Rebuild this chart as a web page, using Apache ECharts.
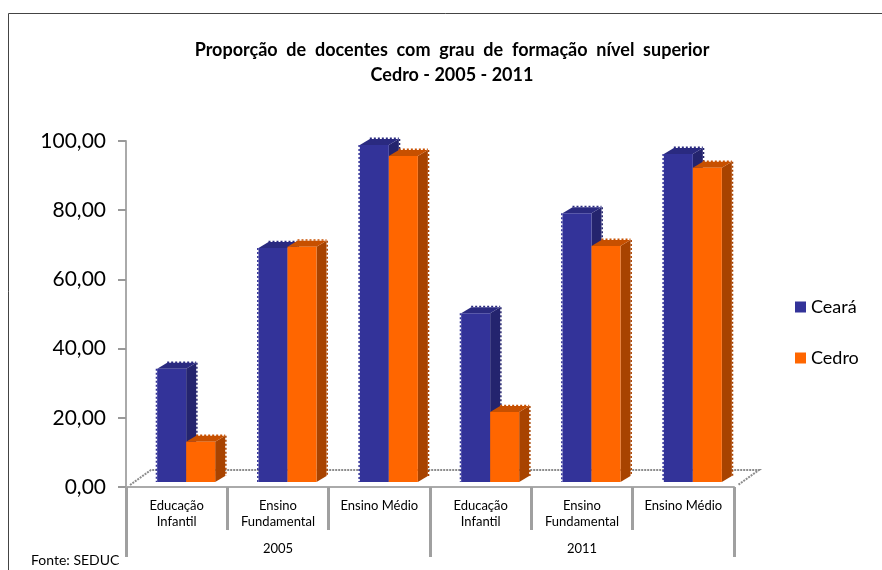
<!DOCTYPE html>
<html><head><meta charset="utf-8">
<style>html,body{margin:0;padding:0;background:#fff}#c{width:882px;height:570px}</style>
<script src="https://cdn.jsdelivr.net/npm/echarts@6/dist/echarts.min.js"></script>
</head><body><div id="c"></div>
<script>
const categories = ['Educação\nInfantil','Ensino\nFundamental','Ensino Médio','Educação\nInfantil','Ensino\nFundamental','Ensino Médio'];
const years = ['2005','2011'];
const ceara = [32.7,67.6,97.4,48.8,77.7,94.8];
const cedro = [11.6,68.0,94.2,20.2,68.2,90.8];
const yTicks = {min:0,max:100,interval:20};

const chart = echarts.init(document.getElementById('c'),null,{renderer:'canvas'});
const BW=29, DX=10, DY=6, SHIFT=9.5, LIFT=5;

function bar(front,side,top,sign){
  return function(params,api){
    const i=api.value(0), v=api.value(1);
    const c=api.coord([i,v]), b=api.coord([i,0]);
    const x0=c[0]+SHIFT+(sign<0?-BW:0), x1=x0+BW, yt=c[1]-LIFT, yb=b[1]-LIFT;
    const poly=(pts,fill)=>({type:'polygon',shape:{points:pts},style:{fill:fill,stroke:null}});
    const teeth=(p,col)=>({type:'polyline',shape:{points:p},style:{fill:null,stroke:col,lineWidth:1.5,lineDash:[2,2]}});
    const kids=[
      poly([[x1,yt],[x1+DX,yt-DY],[x1+DX,yb-DY],[x1,yb]],side),
      poly([[x0,yt],[x0+DX,yt-DY],[x1+DX,yt-DY],[x1,yt]],top),
      {type:'rect',shape:{x:x0,y:yt,width:BW,height:yb-yt},style:{fill:front}},
      teeth([[x1+DX+0.7,yt-DY],[x1+DX+0.7,yb-DY]],side),
      teeth([[x0+DX,yt-DY-0.7],[x1+DX,yt-DY-0.7]],top)
    ];
    if(sign<0) kids.push(teeth([[x0-0.7,yt],[x0-0.7,yb]],front));
    return {type:'group',children:kids};
  };
}
function floor(params,api){
  const a=api.coord([0,0]), z=api.coord([5,0]);
  const half=(z[0]-a[0])/10;
  const L=a[0]-half, R=z[0]+half, y=a[1], d=25, h=17;
  const dot={stroke:'#8c8c8c',lineWidth:2,lineDash:[2,1],fill:null};
  return {type:'group',children:[
    {type:'polyline',shape:{points:[[L+4,y-2],[L+d,y-h],[R+d,y-h],[R+4,y-2]]},style:dot}
  ]};
}
chart.setOption({
  animation:false,
  backgroundColor:'#fff',
  textStyle:{fontFamily:'Lato'},
  title:{
    text:'Proporção  de  docentes  com  grau  de  formação  nível  superior\nCedro - 2005 - 2011',
    left:447,top:33,textAlign:'center',
    textStyle:{fontFamily:'Lato',fontWeight:'bold',fontSize:18,lineHeight:25,color:'#000'}
  },
  legend:{
    data:['Ceará','Cedro'],orient:'vertical',left:790,top:293,itemWidth:11,itemHeight:11,itemGap:33,
    icon:'rect',textStyle:{fontFamily:'Lato',fontSize:18,color:'#000'},selectedMode:false
  },
  grid:{left:126,right:148,top:141,bottom:83,containLabel:false},
  xAxis:[
    {type:'category',data:categories,position:'bottom',
     axisLine:{lineStyle:{color:'#aaa',width:2}},
     axisTick:{show:true,length:43,lineStyle:{color:'#a0a0a0',width:3},alignWithLabel:false},
     axisLabel:{color:'#000',fontSize:13,fontFamily:'Lato',lineHeight:16,margin:11,interval:0}},
    {type:'category',data:years,position:'bottom',
     axisLine:{show:false},
     axisTick:{show:true,length:70,lineStyle:{color:'#a0a0a0',width:3}},
     axisLabel:{color:'#000',fontSize:13,fontFamily:'Lato',margin:55}}
  ],
  yAxis:{type:'value',min:yTicks.min,max:yTicks.max,interval:yTicks.interval,
    axisLine:{show:true,lineStyle:{color:'#aaa',width:2}},
    axisTick:{show:true,length:8,lineStyle:{color:'#999',width:2}},
    splitLine:{show:false},
    axisLabel:{color:'#000',fontSize:21,fontFamily:'Lato',margin:20,formatter:v=>v.toFixed(2).replace('.',',')}},
  series:[
    {name:'floor',type:'custom',xAxisIndex:0,renderItem:floor,data:[[0,0]],silent:true,z:1,legendHoverLink:false,encode:{x:0,y:1}},
    {name:'Ceará',type:'custom',xAxisIndex:0,renderItem:bar('#333399','#24246e','#2a2a80',-1),z:2,
      itemStyle:{color:'#333399'},encode:{x:0,y:1},data:ceara.map((v,i)=>[i,v])},
    {name:'Cedro',type:'custom',xAxisIndex:0,renderItem:bar('#FF6600','#A84300','#C75000',1),z:3,
      itemStyle:{color:'#FF6600'},encode:{x:0,y:1},data:cedro.map((v,i)=>[i,v])}
  ],
  graphic:[
    {type:'polyline',silent:true,z:0,shape:{points:[[8.5,570],[8.5,13.5],[882,13.5]]},style:{stroke:'#444',lineWidth:1,fill:null}},
    {type:'text',silent:true,left:31,top:553,style:{text:'Fonte: SEDUC',fontFamily:'Lato',fontSize:14,fill:'#000'}}
  ]
});
</script></body></html>
